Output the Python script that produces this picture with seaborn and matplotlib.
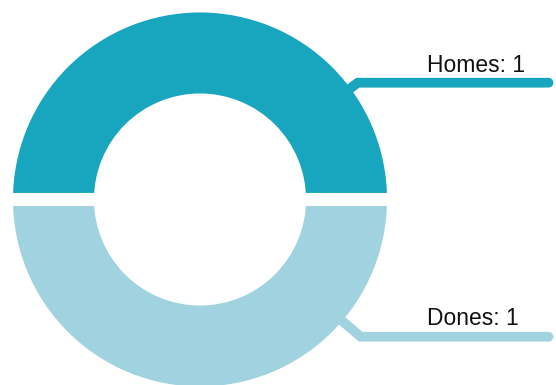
import matplotlib
matplotlib.use("Agg")
import matplotlib.pyplot as plt
import numpy as np
import seaborn as sns

# ----------------------------------
# Data
# ----------------------------------

labels = ["Homes", "Dones"]
values = [1, 1]
colors = ["#17A6BD", "#A1D2DF"]

# leader layout: (angle deg, elbow radius, text baseline offset)
leader_angles = [36.5, -40.5]
elbow_radii = [1.05, 1.13]
text_offsets = [0.055, 0.064]


# ----------------------------------
# Style
# ----------------------------------

sns.set_theme(style="white")
plt.rcParams["font.family"] = ["Liberation Sans", "DejaVu Sans"]

fig = plt.figure(figsize=(5.56, 3.85), dpi=100)
ax = fig.add_axes([0, 0, 1, 1])


# ----------------------------------
# Donut
# ----------------------------------

gap = 9.4  # pt, white separator
wedges, _ = ax.pie(
    values,
    colors=colors,
    startangle=0,
    counterclock=True,
    radius=1.035,
    wedgeprops=dict(width=0.503, edgecolor="white", linewidth=gap),
)


# ----------------------------------
# Leader lines and labels
# ----------------------------------

x_end = 1.864
text_x = 1.214

for lab, val, col, ang, er, off in zip(
    labels, values, colors, leader_angles, elbow_radii, text_offsets
):
    a = np.deg2rad(ang)
    sx, sy = 0.93 * np.cos(a), 0.93 * np.sin(a)
    ex, ey = er * np.cos(a), er * np.sin(a)
    ax.plot(
        [sx, ex, x_end],
        [sy, ey, ey],
        color=col,
        linewidth=7,
        solid_capstyle="round",
        solid_joinstyle="miter",
        zorder=5,
    )
    ax.text(
        text_x,
        ey + off,
        f"{lab}: {val}",
        fontsize=16.5,
        color="#111111",
        ha="left",
        va="baseline",
        zorder=6,
    )


# ----------------------------------
# Frame
# ----------------------------------

ax.set_aspect("auto")
ax.set_xlim(-200 / 187, 356 / 187)
ax.set_ylim((199.5 - 385) / 187, 199.5 / 187)
ax.axis("off")

fig.savefig("out.png", dpi=100)
